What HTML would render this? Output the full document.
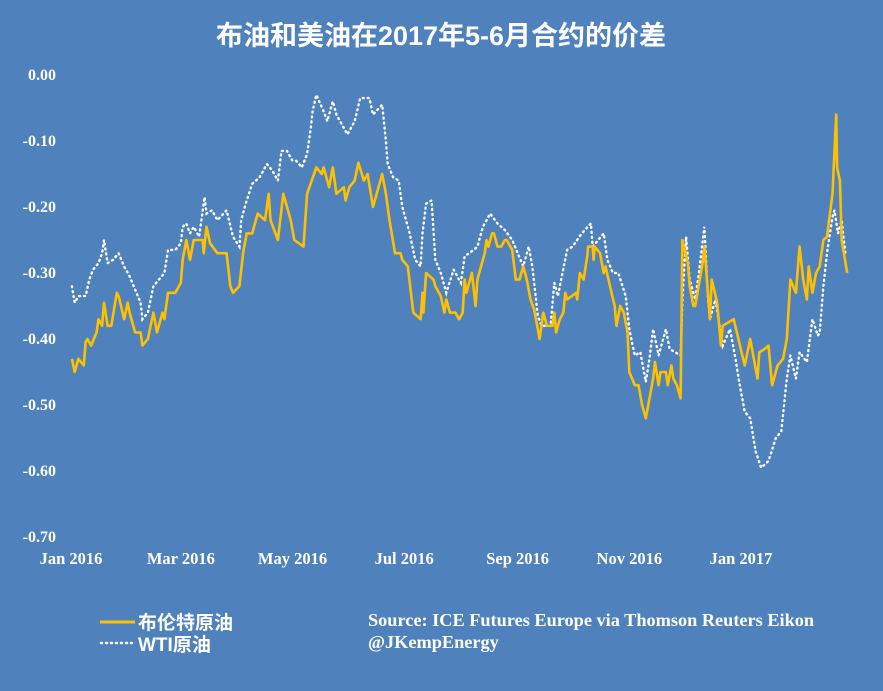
<!DOCTYPE html>
<html><head><meta charset="utf-8"><style>
html,body{margin:0;padding:0;background:#4f81bd;}
svg{display:block;}
</style></head><body>
<svg id="chart" width="883" height="691" xmlns="http://www.w3.org/2000/svg">
<rect x="0" y="0" width="883" height="691" fill="#4f81bd"/>
<text x="441" y="45" text-anchor="middle" fill="#fff" font-family="'Liberation Sans','Noto Sans CJK SC',sans-serif" font-weight="bold" font-size="27">布油和美油在2017年5-6月合约的价差</text>
<g id="yaxis"></g>
<g id="xaxis"></g>
<g id="series"></g>
<g>
 <line x1="100" y1="622" x2="135" y2="622" stroke="#ffc000" stroke-width="3"/>
 <text x="138" y="629" fill="#fff" font-family="'Liberation Sans','Noto Sans CJK SC',sans-serif" font-weight="bold" font-size="19">布伦特原油</text>
 <line x1="101" y1="643" x2="135" y2="643" stroke="#fff" stroke-width="2.5" stroke-dasharray="1 4" stroke-linecap="round"/>
 <text x="138" y="651" fill="#fff" font-family="'Liberation Sans','Noto Sans CJK SC',sans-serif" font-weight="bold" font-size="19">WTI原油</text>
</g>
<text x="368" y="626" fill="#fff" font-family="'Liberation Serif',serif" font-weight="bold" font-size="18.3">Source: ICE Futures Europe via Thomson Reuters Eikon</text>
<text x="368" y="648" fill="#fff" font-family="'Liberation Serif',serif" font-weight="bold" font-size="18.3">@JKempEnergy</text>
</svg>
<script>
const yTicks = [0, -0.1, -0.2, -0.3, -0.4, -0.5, -0.6, -0.7];
const yTickLabels = ["0.00","-0.10","-0.20","-0.30","-0.40","-0.50","-0.60","-0.70"];
const xTickDays = [0, 60, 121, 182, 244, 305, 366];
const xTickLabels = ["Jan 2016","Mar 2016","May 2016","Jul 2016","Sep 2016","Nov 2016","Jan 2017"];
const brentDays = [0.5,2,4,7,8,9,11,14,15,17,18,20,22,25,26,29,31,32,35,38,39,42,45,47,50,51,53,57,60,61,63,65,67,69,72,72.5,74,76,80,85,87,88.5,92,94,96,99,102,106,108,109,113,116,120,122,127,129,134,137,138,141,143,145,149,150,152,155,157,160,162,165,170,172,174,177,180,181,184,187,191,192,192.5,194,198,199,202,204,205,207,210,212,214,215,216,219,221,222,226,227,228,230,231,233,235,237,238,241,243,245,247,249,251,253,256,258,260,263,264,265,267,269,270,271,276,276.5,278,280,282,282.5,285,285.5,286,289,291,292,294,297,298,300,302,304,305,308,310,312,314,316,318,319,321,322,325,326,328,329,331,333,334,337,338,340,341,345,346,349,350,353,355,356,362,368,371,375,376,379,381,383,386,389,391,393,396,398,400,402,403,405,407,409,411,413,416,418,418.5,420,421,424];
const brentValues = [-0.43,-0.45,-0.43,-0.44,-0.405,-0.40,-0.41,-0.39,-0.37,-0.38,-0.345,-0.38,-0.38,-0.33,-0.335,-0.37,-0.345,-0.36,-0.39,-0.39,-0.41,-0.40,-0.36,-0.39,-0.36,-0.37,-0.33,-0.33,-0.315,-0.28,-0.25,-0.28,-0.25,-0.25,-0.25,-0.27,-0.23,-0.255,-0.27,-0.27,-0.32,-0.33,-0.32,-0.27,-0.24,-0.24,-0.21,-0.22,-0.18,-0.22,-0.25,-0.18,-0.22,-0.25,-0.26,-0.18,-0.14,-0.15,-0.14,-0.17,-0.14,-0.18,-0.17,-0.19,-0.17,-0.16,-0.133,-0.16,-0.15,-0.20,-0.15,-0.18,-0.22,-0.27,-0.27,-0.28,-0.29,-0.36,-0.37,-0.33,-0.36,-0.30,-0.31,-0.32,-0.335,-0.36,-0.34,-0.36,-0.36,-0.37,-0.36,-0.31,-0.33,-0.30,-0.35,-0.31,-0.27,-0.25,-0.26,-0.24,-0.24,-0.26,-0.26,-0.25,-0.25,-0.265,-0.31,-0.31,-0.29,-0.31,-0.34,-0.355,-0.40,-0.36,-0.38,-0.38,-0.36,-0.39,-0.37,-0.36,-0.33,-0.34,-0.33,-0.34,-0.30,-0.31,-0.275,-0.26,-0.26,-0.28,-0.26,-0.27,-0.30,-0.29,-0.315,-0.35,-0.38,-0.35,-0.36,-0.39,-0.45,-0.47,-0.47,-0.50,-0.52,-0.49,-0.46,-0.435,-0.47,-0.45,-0.45,-0.47,-0.44,-0.46,-0.47,-0.49,-0.25,-0.285,-0.32,-0.35,-0.35,-0.285,-0.26,-0.37,-0.31,-0.345,-0.41,-0.38,-0.37,-0.44,-0.40,-0.46,-0.42,-0.415,-0.41,-0.47,-0.44,-0.43,-0.40,-0.31,-0.33,-0.26,-0.31,-0.34,-0.29,-0.33,-0.30,-0.29,-0.25,-0.245,-0.18,-0.06,-0.14,-0.16,-0.25,-0.30];
const wtiDays = [0.5,2,4,8,10,12,15,17,18,20,23,26,29,32,35,38,39,42,45,48,51,53,57,60,61,63,65,67,70,73,74,77,80,85,88.5,92,93,96,99,103,107,110,113,115,118,121,123,126,129,131,132,134,138,140,143,145,151,155,158,163,165,170,172,173,176,179,181,185,188,191,192,194,197,199,202,205,209,213,215,220,222,225,229,233,237,241,244,247,250,252,255,257,262,264,266,271,274,279,284,285,291,293,296,299,303,305,308,311,314,316,318,321,325,327,333,334,336,338,341,343,346,348,349,352,356,360,363,365,368,371,374,377,381,385,388,391,393,396,398,402,405,408,409,411,413,416,417,419,421,423];
const wtiValues = [-0.32,-0.345,-0.335,-0.335,-0.31,-0.295,-0.285,-0.27,-0.25,-0.285,-0.28,-0.27,-0.29,-0.305,-0.325,-0.345,-0.37,-0.36,-0.32,-0.31,-0.30,-0.265,-0.265,-0.255,-0.23,-0.225,-0.24,-0.23,-0.245,-0.185,-0.21,-0.205,-0.22,-0.205,-0.245,-0.26,-0.22,-0.19,-0.165,-0.155,-0.135,-0.145,-0.16,-0.115,-0.115,-0.13,-0.13,-0.14,-0.12,-0.08,-0.055,-0.03,-0.055,-0.07,-0.04,-0.06,-0.09,-0.07,-0.035,-0.035,-0.06,-0.045,-0.10,-0.135,-0.155,-0.16,-0.20,-0.24,-0.28,-0.29,-0.24,-0.195,-0.19,-0.28,-0.30,-0.33,-0.295,-0.315,-0.275,-0.265,-0.26,-0.23,-0.21,-0.225,-0.235,-0.25,-0.27,-0.29,-0.26,-0.29,-0.365,-0.38,-0.38,-0.315,-0.335,-0.265,-0.26,-0.24,-0.225,-0.26,-0.24,-0.28,-0.30,-0.30,-0.335,-0.385,-0.425,-0.42,-0.465,-0.43,-0.385,-0.425,-0.385,-0.415,-0.425,-0.34,-0.245,-0.31,-0.34,-0.30,-0.23,-0.34,-0.37,-0.34,-0.41,-0.385,-0.43,-0.465,-0.51,-0.52,-0.57,-0.595,-0.585,-0.55,-0.54,-0.46,-0.425,-0.46,-0.42,-0.435,-0.37,-0.395,-0.39,-0.32,-0.27,-0.215,-0.205,-0.24,-0.22,-0.27];

const NS = "http://www.w3.org/2000/svg";
const X0 = 71, PXPERDAY = 670/366;
const Y0 = 75, PXPERUNIT = 660;
function xScale(d){ return X0 + d*PXPERDAY; }
function yScale(v){ return Y0 - v*PXPERUNIT; }

const yg = document.getElementById('yaxis');
yTicks.forEach((v,i)=>{
  const t = document.createElementNS(NS,'text');
  t.setAttribute('x', 56);
  t.setAttribute('y', yScale(v)+5);
  t.setAttribute('text-anchor','end');
  t.setAttribute('fill','#fff');
  t.setAttribute('font-family',"'Liberation Serif',serif");
  t.setAttribute('font-weight','bold');
  t.setAttribute('font-size','16');
  t.textContent = yTickLabels[i];
  
  
  yg.appendChild(t);
});
const xg = document.getElementById('xaxis');
xTickDays.forEach((d,i)=>{
  const t = document.createElementNS(NS,'text');
  t.setAttribute('x', xScale(d));
  t.setAttribute('y', 564);
  t.setAttribute('text-anchor','middle');
  t.setAttribute('fill','#fff');
  t.setAttribute('font-family',"'Liberation Serif',serif");
  t.setAttribute('font-weight','bold');
  t.setAttribute('font-size','16.5');
  t.textContent = xTickLabels[i];
  
  
  xg.appendChild(t);
});
function pts(days, vals){ return days.map((d,i)=>xScale(d).toFixed(1)+','+yScale(vals[i]).toFixed(1)).join(' '); }
const sg = document.getElementById('series');
const w = document.createElementNS(NS,'polyline');
w.setAttribute('points', pts(wtiDays, wtiValues));
w.setAttribute('fill','none');
w.setAttribute('stroke','#fff');
w.setAttribute('stroke-width','2.4');
w.setAttribute('stroke-dasharray','1 4');
w.setAttribute('stroke-linecap','round');


sg.appendChild(w);
const b = document.createElementNS(NS,'polyline');
b.setAttribute('points', pts(brentDays, brentValues));
b.setAttribute('fill','none');
b.setAttribute('stroke','#ffc000');
b.setAttribute('stroke-width','2.6');
b.setAttribute('stroke-linejoin','round');


sg.appendChild(b);
</script>
</body></html>
